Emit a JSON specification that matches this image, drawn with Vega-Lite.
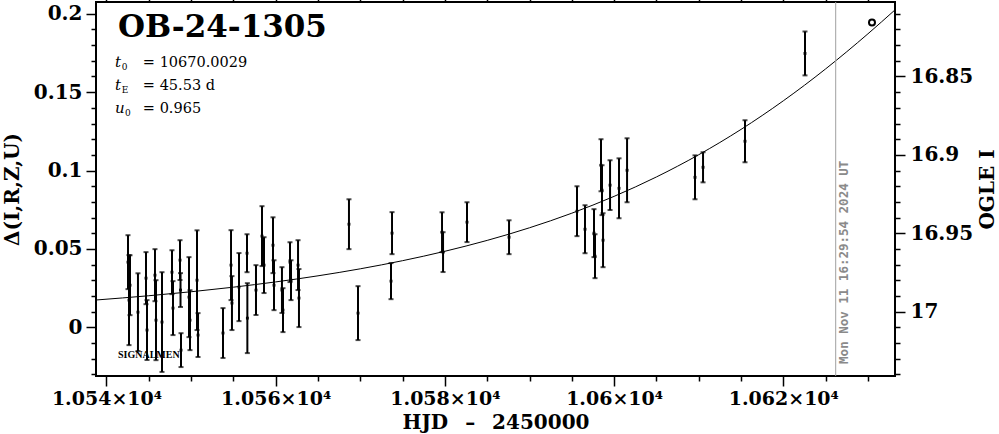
{
  "$schema": "https://vega.github.io/schema/vega-lite/v6.json",
  "width": 799,
  "height": 374,
  "autosize": {"type": "none"},
  "padding": {"left": 96, "top": 2, "right": 104, "bottom": 58},
  "background": "white",
  "config": {
    "view": {"stroke": "black", "strokeWidth": 2},
    "axis": {
      "domain": false, "grid": false,
      "labelFont": "DejaVu Serif", "labelFontWeight": "bold", "labelColor": "black",
      "titleFont": "DejaVu Serif", "titleFontWeight": "bold", "titleColor": "black",
      "tickColor": "black", "tickWidth": 1.5, "tickCount": 100,
      "labelOverlap": false, "labelFlush": false, "labelBound": false
    }
  },
  "datasets": {
    "obs": [
      {"t": 10542.54, "d": 0.0416, "e": 0.0172},
      {"t": 10542.66, "d": 0.0174, "e": 0.0287},
      {"t": 10542.78, "d": 0.0269, "e": 0.0191},
      {"t": 10543.72, "d": 0.0097, "e": 0.0248},
      {"t": 10544.67, "d": 0.0314, "e": 0.0166},
      {"t": 10544.79, "d": -0.0017, "e": 0.0191},
      {"t": 10545.73, "d": 0.0333, "e": 0.0166},
      {"t": 10545.85, "d": 0.0046, "e": 0.0255},
      {"t": 10546.56, "d": 0.0034, "e": 0.0318},
      {"t": 10547.74, "d": 0.0352, "e": 0.0140},
      {"t": 10547.86, "d": 0.0123, "e": 0.0172},
      {"t": 10548.69, "d": 0.0429, "e": 0.0127},
      {"t": 10548.75, "d": 0.0238, "e": 0.0108},
      {"t": 10548.81, "d": -0.0145, "e": 0.0108},
      {"t": 10549.75, "d": 0.0193, "e": 0.0255},
      {"t": 10549.87, "d": 0.0046, "e": 0.0191},
      {"t": 10550.70, "d": 0.0301, "e": 0.0318},
      {"t": 10550.82, "d": -0.0049, "e": 0.0140},
      {"t": 10553.77, "d": -0.0036, "e": 0.0159},
      {"t": 10554.72, "d": 0.0397, "e": 0.0223},
      {"t": 10554.83, "d": 0.0155, "e": 0.0172},
      {"t": 10555.66, "d": 0.0257, "e": 0.0217},
      {"t": 10556.61, "d": 0.0473, "e": 0.0121},
      {"t": 10556.65, "d": 0.0059, "e": 0.0223},
      {"t": 10557.67, "d": 0.0238, "e": 0.0159},
      {"t": 10558.38, "d": 0.0582, "e": 0.0191},
      {"t": 10558.62, "d": 0.0397, "e": 0.0178},
      {"t": 10559.68, "d": 0.0524, "e": 0.0178},
      {"t": 10559.80, "d": 0.0269, "e": 0.0159},
      {"t": 10560.74, "d": 0.0238, "e": 0.0146},
      {"t": 10560.86, "d": 0.0110, "e": 0.0140},
      {"t": 10561.69, "d": 0.0416, "e": 0.0127},
      {"t": 10561.81, "d": 0.0301, "e": 0.0127},
      {"t": 10562.64, "d": 0.0397, "e": 0.0159},
      {"t": 10562.75, "d": 0.0187, "e": 0.0185},
      {"t": 10568.66, "d": 0.0658, "e": 0.0159},
      {"t": 10569.73, "d": 0.0091, "e": 0.0172},
      {"t": 10573.63, "d": 0.0295, "e": 0.0115},
      {"t": 10573.75, "d": 0.0601, "e": 0.0134},
      {"t": 10579.66, "d": 0.0607, "e": 0.0127},
      {"t": 10579.78, "d": 0.0480, "e": 0.0127},
      {"t": 10582.61, "d": 0.0671, "e": 0.0127},
      {"t": 10587.58, "d": 0.0575, "e": 0.0108},
      {"t": 10595.61, "d": 0.0741, "e": 0.0159},
      {"t": 10596.56, "d": 0.0626, "e": 0.0153},
      {"t": 10597.62, "d": 0.0601, "e": 0.0153},
      {"t": 10597.74, "d": 0.0454, "e": 0.0140},
      {"t": 10598.45, "d": 0.1034, "e": 0.0166},
      {"t": 10598.57, "d": 0.0875, "e": 0.0159},
      {"t": 10598.69, "d": 0.0556, "e": 0.0172},
      {"t": 10599.52, "d": 0.0907, "e": 0.0159},
      {"t": 10600.58, "d": 0.0887, "e": 0.0191},
      {"t": 10601.53, "d": 0.1002, "e": 0.0204},
      {"t": 10609.56, "d": 0.0957, "e": 0.0140},
      {"t": 10610.51, "d": 0.1021, "e": 0.0096},
      {"t": 10615.47, "d": 0.1187, "e": 0.0134},
      {"t": 10622.56, "d": 0.1747, "e": 0.0140}
    ],
    "model": [
      {"t": 10538.76, "d": 0.01746},
      {"t": 10545, "d": 0.02018},
      {"t": 10550, "d": 0.02272},
      {"t": 10555, "d": 0.02564},
      {"t": 10560, "d": 0.02900},
      {"t": 10565, "d": 0.03288},
      {"t": 10570, "d": 0.03736},
      {"t": 10575, "d": 0.04254},
      {"t": 10580, "d": 0.04854},
      {"t": 10585, "d": 0.05548},
      {"t": 10590, "d": 0.06352},
      {"t": 10595, "d": 0.07282},
      {"t": 10600, "d": 0.08356},
      {"t": 10605, "d": 0.09593},
      {"t": 10610, "d": 0.11010},
      {"t": 10615, "d": 0.12625},
      {"t": 10620, "d": 0.14449},
      {"t": 10625, "d": 0.16484},
      {"t": 10630, "d": 0.18721},
      {"t": 10633.2, "d": 0.20246}
    ],
    "ogle": [
      {"t": 10630.48, "mag": 16.8155}
    ],
    "nowline": [
      {"t": 10626.19, "d": -0.031, "d2": 0.2075}
    ],
    "now": [
      {"t": 10626.19, "d": -0.0233, "label": "Mon Nov 11 16:29:54 2024 UT"}
    ],
    "title": [
      {"t": 10541.36, "d": 0.1852, "label": "OB-24-1305"}
    ],
    "letters": [
      {"t": 10541.01, "d": 0.1661, "label": "t"},
      {"t": 10541.01, "d": 0.1514, "label": "t"},
      {"t": 10541.01, "d": 0.1367, "label": "u"}
    ],
    "subs": [
      {"t": 10541.8, "d": 0.1661, "label": "0"},
      {"t": 10541.8, "d": 0.1514, "label": "E"},
      {"t": 10542.2, "d": 0.1367, "label": "0"}
    ],
    "values": [
      {"t": 10544.3, "d": 0.1661, "label": "= 10670.0029"},
      {"t": 10544.3, "d": 0.1514, "label": "= 45.53 d"},
      {"t": 10544.3, "d": 0.1367, "label": "= 0.965"}
    ],
    "sig": [
      {"t": 10541.36, "d": -0.0195, "label": "SIGNALMEN"}
    ]
  },
  "layer": [
    {
      "encoding": {
        "x": {
          "field": "t", "type": "quantitative",
          "scale": {"domain": [10538.76, 10633.2], "nice": false, "zero": false},
          "axis": {
            "orient": "bottom",
            "values": [10540, 10560, 10580, 10600, 10620],
            "tickCount": 100,
            "tickSize": 10,
            "tickColor": "black", "tickWidth": 1.5,
            "labelExpr": "format(datum.value / 10000, '.4~g') + '×10⁴'",
            "labelFontSize": 19,
            "labelPadding": 3,
            "title": "HJD \u2002–\u2002 2450000",
            "titleFontSize": 20,
            "titlePadding": 4
          }
        },
        "y": {
          "field": "d", "type": "quantitative",
          "scale": {"domain": [-0.031, 0.2075], "nice": false, "zero": false},
          "axis": {
            "orient": "left",
            "values": [0, 0.05, 0.1, 0.15, 0.2],
            "tickCount": 100,
            "tickSize": 10,
            "tickColor": "black", "tickWidth": 1.5,
            "labelExpr": "format(datum.value, '~g')",
            "labelFontSize": 20,
            "labelPadding": 4,
            "title": "Δ(I,R,Z,U)",
            "titleFontSize": 20,
            "titlePadding": 11
          }
        }
      },
      "layer": [
        {
          "data": {"name": "model"},
          "mark": {"type": "line", "color": "black", "strokeWidth": 1, "interpolate": "monotone"}
        },
        {
          "data": {"name": "obs"},
          "mark": {"type": "errorbar", "color": "black", "thickness": 2, "ticks": {"size": 5, "thickness": 2, "color": "black"}},
          "encoding": {"yError": {"field": "e"}}
        },
        {
          "data": {"name": "obs"},
          "mark": {"type": "point", "shape": "square", "filled": true, "size": 8, "color": "black", "opacity": 1}
        },
        {
          "data": {"name": "nowline"},
          "mark": {"type": "rule", "color": "#a0a0a0", "strokeWidth": 1},
          "encoding": {"y2": {"field": "d2"}}
        },
        {
          "data": {"name": "now"},
          "mark": {"type": "text", "angle": 270, "align": "left", "baseline": "middle", "dy": 8, "font": "DejaVu Sans Mono", "fontWeight": "bold", "fontSize": 12.5, "color": "#8a8a8a"},
          "encoding": {"text": {"field": "label"}}
        },
        {
          "data": {"name": "title"},
          "mark": {"type": "text", "align": "left", "baseline": "alphabetic", "font": "DejaVu Serif", "fontWeight": "bold", "fontSize": 31, "color": "black"},
          "encoding": {"text": {"field": "label"}}
        },
        {
          "data": {"name": "letters"},
          "mark": {"type": "text", "align": "left", "baseline": "alphabetic", "font": "DejaVu Serif", "fontStyle": "italic", "fontSize": 15, "color": "black"},
          "encoding": {"text": {"field": "label"}}
        },
        {
          "data": {"name": "subs"},
          "mark": {"type": "text", "align": "left", "baseline": "alphabetic", "dy": 3, "font": "DejaVu Serif", "fontSize": 9, "color": "black"},
          "encoding": {"text": {"field": "label"}}
        },
        {
          "data": {"name": "values"},
          "mark": {"type": "text", "align": "left", "baseline": "alphabetic", "font": "DejaVu Serif", "fontSize": 14.5, "color": "black"},
          "encoding": {"text": {"field": "label"}}
        },
        {
          "data": {"name": "sig"},
          "mark": {"type": "text", "align": "left", "baseline": "alphabetic", "font": "Liberation Serif", "fontWeight": "bold", "fontSize": 10, "color": "black"},
          "encoding": {"text": {"field": "label"}}
        }
      ]
    },
    {
      "data": {"name": "ogle"},
      "mark": {"type": "point", "shape": "circle", "filled": false, "size": 36, "strokeWidth": 2, "color": "black", "opacity": 1},
      "encoding": {
        "x": {
          "field": "t", "type": "quantitative",
          "scale": {"domain": [10538.76, 10633.2], "nice": false, "zero": false},
          "axis": {
            "orient": "top",
            "values": [10540, 10545, 10550, 10555, 10560, 10565, 10570, 10575, 10580, 10585, 10590, 10595, 10600, 10605, 10610, 10615, 10620, 10625, 10630],
            "tickCount": 100,
            "tickSize": {"condition": {"test": "datum.value % 20 === 0", "value": 10}, "value": 5},
            "tickColor": "black", "tickWidth": 1.5,
            "labels": false,
            "title": null
          }
        },
        "y": {
          "field": "mag", "type": "quantitative",
          "scale": {"domain": [17.041, 16.8025], "nice": false, "zero": false},
          "axis": {
            "orient": "right",
            "values": [16.81, 16.82, 16.83, 16.84, 16.85, 16.86, 16.87, 16.88, 16.89, 16.9, 16.91, 16.92, 16.93, 16.94, 16.95, 16.96, 16.97, 16.98, 16.99, 17, 17.01, 17.02, 17.03, 17.04],
            "tickCount": 100,
            "tickSize": {"condition": {"test": "abs(datum.value * 20 - round(datum.value * 20)) < 0.001", "value": 10}, "value": 5},
            "tickColor": "black", "tickWidth": 1.5,
            "labelExpr": "abs(datum.value * 20 - round(datum.value * 20)) < 0.001 ? format(datum.value, '~g') : ''",
            "labelFontSize": 20,
            "labelAlign": "left",
            "labelPadding": 5,
            "title": "OGLE I",
            "titleFontSize": 20,
            "titleAngle": 270,
            "titleBaseline": "top",
            "titlePadding": 5
          }
        }
      }
    },
    {
      "data": {"name": "obs"},
      "mark": {"type": "point", "opacity": 0},
      "encoding": {
        "x": {
          "field": "t", "type": "quantitative",
          "scale": {"domain": [10538.76, 10633.2], "nice": false, "zero": false},
          "axis": {
            "orient": "bottom",
            "values": [10545, 10550, 10555, 10565, 10570, 10575, 10585, 10590, 10595, 10605, 10610, 10615, 10625, 10630],
            "tickCount": 100,
            "tickSize": 5,
            "tickColor": "black", "tickWidth": 1.5,
            "labels": false,
            "title": null
          }
        },
        "y": {
          "field": "d", "type": "quantitative",
          "scale": {"domain": [-0.031, 0.2075], "nice": false, "zero": false},
          "axis": {
            "orient": "left",
            "values": [-0.03, -0.02, -0.01, 0.01, 0.02, 0.03, 0.04, 0.06, 0.07, 0.08, 0.09, 0.11, 0.12, 0.13, 0.14, 0.16, 0.17, 0.18, 0.19],
            "tickCount": 100,
            "tickSize": 5,
            "tickColor": "black", "tickWidth": 1.5,
            "labels": false,
            "title": null
          }
        }
      }
    }
  ],
  "resolve": {"scale": {"x": "independent", "y": "independent"}}
}
